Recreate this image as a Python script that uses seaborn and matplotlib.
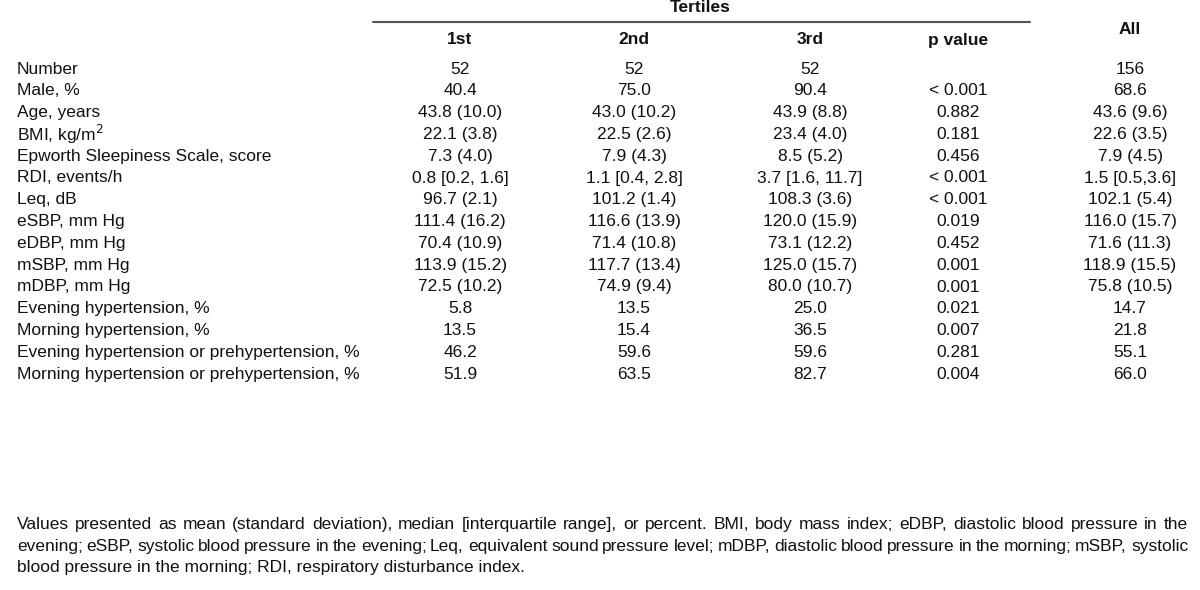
import matplotlib
matplotlib.use("Agg")
import matplotlib.pyplot as plt
import seaborn as sns
from matplotlib import font_manager

sns.set_theme(style="white")
names = {f.name for f in font_manager.fontManager.ttflist}
fam = "Liberation Sans Narrow" if "Liberation Sans Narrow" in names else "Liberation Sans"
plt.rcParams['font.family'] = [fam, 'DejaVu Sans']

row_labels = ["Number", "Male, %", "Age, years", "BMI, kg/m$^2$",
              "Epworth Sleepiness Scale, score", "RDI, events/h", "Leq, dB",
              "eSBP, mm Hg", "eDBP, mm Hg", "mSBP, mm Hg", "mDBP, mm Hg",
              "Evening hypertension, %", "Morning hypertension, %",
              "Evening hypertension or prehypertension, %",
              "Morning hypertension or prehypertension, %"]
first = ["52", "40.4", "43.8 (10.0)", "22.1 (3.8)", "7.3 (4.0)", "0.8 [0.2, 1.6]",
         "96.7 (2.1)", "111.4 (16.2)", "70.4 (10.9)", "113.9 (15.2)", "72.5 (10.2)",
         "5.8", "13.5", "46.2", "51.9"]
second = ["52", "75.0", "43.0 (10.2)", "22.5 (2.6)", "7.9 (4.3)", "1.1 [0.4, 2.8]",
          "101.2 (1.4)", "116.6 (13.9)", "71.4 (10.8)", "117.7 (13.4)", "74.9 (9.4)",
          "13.5", "15.4", "59.6", "63.5"]
third = ["52", "90.4", "43.9 (8.8)", "23.4 (4.0)", "8.5 (5.2)", "3.7 [1.6, 11.7]",
         "108.3 (3.6)", "120.0 (15.9)", "73.1 (12.2)", "125.0 (15.7)", "80.0 (10.7)",
         "25.0", "36.5", "59.6", "82.7"]
p_value = ["", "< 0.001", "0.882", "0.181", "0.456", "< 0.001", "< 0.001", "0.019",
           "0.452", "0.001", "0.001", "0.021", "0.007", "0.281", "0.004"]
all_col = ["156", "68.6", "43.6 (9.6)", "22.6 (3.5)", "7.9 (4.5)", "1.5 [0.5,3.6]",
           "102.1 (5.4)", "116.0 (15.7)", "71.6 (11.3)", "118.9 (15.5)", "75.8 (10.5)",
           "14.7", "21.8", "55.1", "66.0"]
col_headers = ["1st", "2nd", "3rd", "p value"]
footnote_lines = [
    "Values presented as mean (standard deviation), median [interquartile range], or percent. "
    "BMI, body mass index; eDBP, diastolic blood pressure in the",
    "evening; eSBP, systolic blood pressure in the evening; Leq, equivalent sound pressure level; "
    "mDBP, diastolic blood pressure in the morning; mSBP, systolic",
    "blood pressure in the morning; RDI, respiratory disturbance index.",
]

fig = plt.figure(figsize=(12, 5.9), dpi=100)
ax = fig.add_axes([0, 0, 1, 1])
ax.set_xlim(0, 1200)
ax.set_ylim(590, 0)
ax.axis("off")

fs = 12.5
col_x = [460, 634, 810, 958]
all_x = 1130
tc = "#111111"

ax.text(700, 8, "Tertiles", ha="center", va="center", fontsize=fs, fontweight="bold", color=tc)
ax.plot([373, 1030], [22, 22], color="#555555", lw=1.5)
ax.text(all_x, 29, "All", ha="center", va="center", fontsize=fs, fontweight="bold", color=tc)
for x, h in zip(col_x, col_headers):
    ax.text(x, 40, h, ha="center", va="center", fontsize=fs, fontweight="bold", color=tc)

y0, dy = 69, 21.8
for i, lab in enumerate(row_labels):
    y = y0 + i * dy
    ax.text(17, y, lab, ha="left", va="center", fontsize=fs, color=tc)
    for x, col in zip(col_x + [all_x], [first, second, third, p_value, all_col]):
        ax.text(x, y, col[i], ha="center", va="center", fontsize=fs, color=tc)

# footnote, justified except for the last line
renderer = fig.canvas.get_renderer()
left, right = 17, 1188
def wwidth(w):
    t = ax.text(0, 0, w, fontsize=fs)
    bb = t.get_window_extent(renderer)
    t.remove()
    return bb.width
for li, line in enumerate(footnote_lines):
    y = [529, 551, 572][li]
    if li == len(footnote_lines) - 1:
        ax.text(left, y, line, ha="left", va="baseline", fontsize=fs, color=tc)
        continue
    ln = line.split(" ")
    widths = [wwidth(w) for w in ln]
    gap = (right - left - sum(widths)) / (len(ln) - 1)
    x = left
    for w, ww in zip(ln, widths):
        ax.text(round(x), y, w, ha="left", va="baseline", fontsize=fs, color=tc)
        x += ww + gap

fig.savefig("out.png", dpi=100)
